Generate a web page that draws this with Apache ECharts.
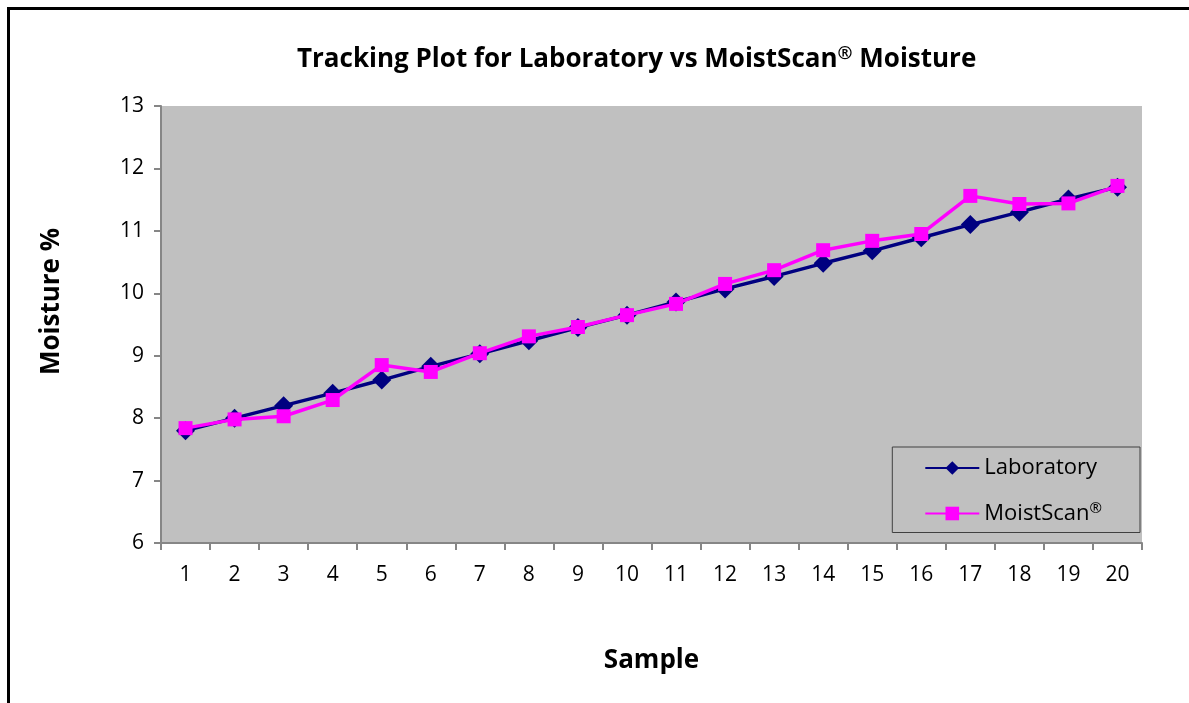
<!DOCTYPE html>
<html>
<head>
<meta charset="utf-8">
<title>Tracking Plot</title>
<script src="https://cdn.jsdelivr.net/npm/echarts@6/dist/echarts.min.js"></script>
<style>
  html, body { margin: 0; padding: 0; background: #fff; }
  #frame {
    position: absolute; left: 7px; top: 7px; right: 0; bottom: 0;
    border-top: 3px solid #000; border-left: 3px solid #000;
  }
  #chart { position: absolute; left: 0; top: 0; width: 1189px; height: 703px; }
</style>
</head>
<body>
<div id="frame"></div>
<div id="chart"></div>
<script>
// 样本编号
const samples = ['1','2','3','4','5','6','7','8','9','10','11','12','13','14','15','16','17','18','19','20']
// 实验室测得水分
const laboratory = [7.8, 8.0, 8.2, 8.4, 8.61, 8.83, 9.03, 9.24, 9.45, 9.65, 9.86, 10.07, 10.27, 10.48, 10.68, 10.89, 11.1, 11.3, 11.51, 11.7]
// MoistScan 测得水分
const moistScan = [7.84, 7.98, 8.03, 8.29, 8.85, 8.74, 9.04, 9.31, 9.46, 9.65, 9.83, 10.15, 10.37, 10.69, 10.84, 10.95, 11.56, 11.43, 11.44, 11.72]

const font = 'Open Sans'
const chart = echarts.init(document.getElementById('chart'), null, { renderer: 'canvas' })

const option = {
  animation: false,
  textStyle: { fontFamily: font },
  title: {
    // ® 用上标显示
    text: '{a|Tracking Plot for Laboratory vs MoistScan}{s|®}{a| Moisture}',
    left: 292,
    top: 40,
    textStyle: {
      rich: {
        a: { fontFamily: font, fontSize: 26, fontWeight: 'bold', color: '#000' },
        s: { fontFamily: font, fontSize: 18, fontWeight: 'bold', color: '#000', padding: [0, 0, 12, 0] }
      }
    }
  },
  legend: {
    orient: 'vertical',
    right: 49,
    top: 447,
    padding: [10, 38, 8, 32],
    itemGap: 22,
    itemWidth: 54,
    itemHeight: 17,
    backgroundColor: '#c0c0c0',
    borderColor: '#404040',
    borderWidth: 1,
    formatter: function (name) {
      return name === 'MoistScan®' ? '{t|MoistScan}{s|®}' : '{t|' + name + '}'
    },
    textStyle: {
      rich: {
        t: { fontFamily: font, fontSize: 22, color: '#000' },
        s: { fontFamily: font, fontSize: 15, color: '#000', padding: [0, 0, 10, 0] }
      }
    },
    data: ['Laboratory', 'MoistScan®']
  },
  grid: {
    left: 161,
    right: 47,
    top: 106,
    bottom: 160,
    show: true,
    backgroundColor: '#c0c0c0',
    borderWidth: 0
  },
  xAxis: {
    type: 'category',
    data: samples,
    boundaryGap: true,
    name: 'Sample',
    nameLocation: 'middle',
    nameGap: 105,
    nameTextStyle: { fontFamily: font, fontSize: 26, fontWeight: 'bold', color: '#000' },
    axisLine: { lineStyle: { color: '#868686', width: 2 } },
    axisTick: { show: true, alignWithLabel: false, length: 7, lineStyle: { color: '#868686', width: 2 } },
    axisLabel: { fontFamily: font, fontSize: 21, color: '#000', margin: 22 },
    splitLine: { show: false }
  },
  yAxis: {
    type: 'value',
    min: 6,
    max: 13,
    interval: 1,
    name: 'Moisture %',
    nameLocation: 'middle',
    nameGap: 96,
    nameTextStyle: { fontFamily: font, fontSize: 26, fontWeight: 'bold', color: '#000', padding: [0, 0, 0, 46] },
    axisLine: { show: true, lineStyle: { color: '#868686', width: 2 } },
    axisTick: { show: true, length: 7, lineStyle: { color: '#868686', width: 2 } },
    axisLabel: { fontFamily: font, fontSize: 21, color: '#000', margin: 17 },
    splitLine: { show: false }
  },
  series: [
    {
      name: 'Laboratory',
      type: 'line',
      data: laboratory,
      symbol: 'diamond',
      symbolSize: 19,
      lineStyle: { color: '#000080', width: 3.5 },
      itemStyle: { color: '#000080' },
      z: 2
    },
    {
      name: 'MoistScan®',
      type: 'line',
      data: moistScan,
      symbol: 'rect',
      symbolSize: 14,
      lineStyle: { color: '#ff00ff', width: 3.5 },
      itemStyle: { color: '#ff00ff' },
      z: 3
    }
  ]
}

chart.setOption(option)
</script>
</body>
</html>
